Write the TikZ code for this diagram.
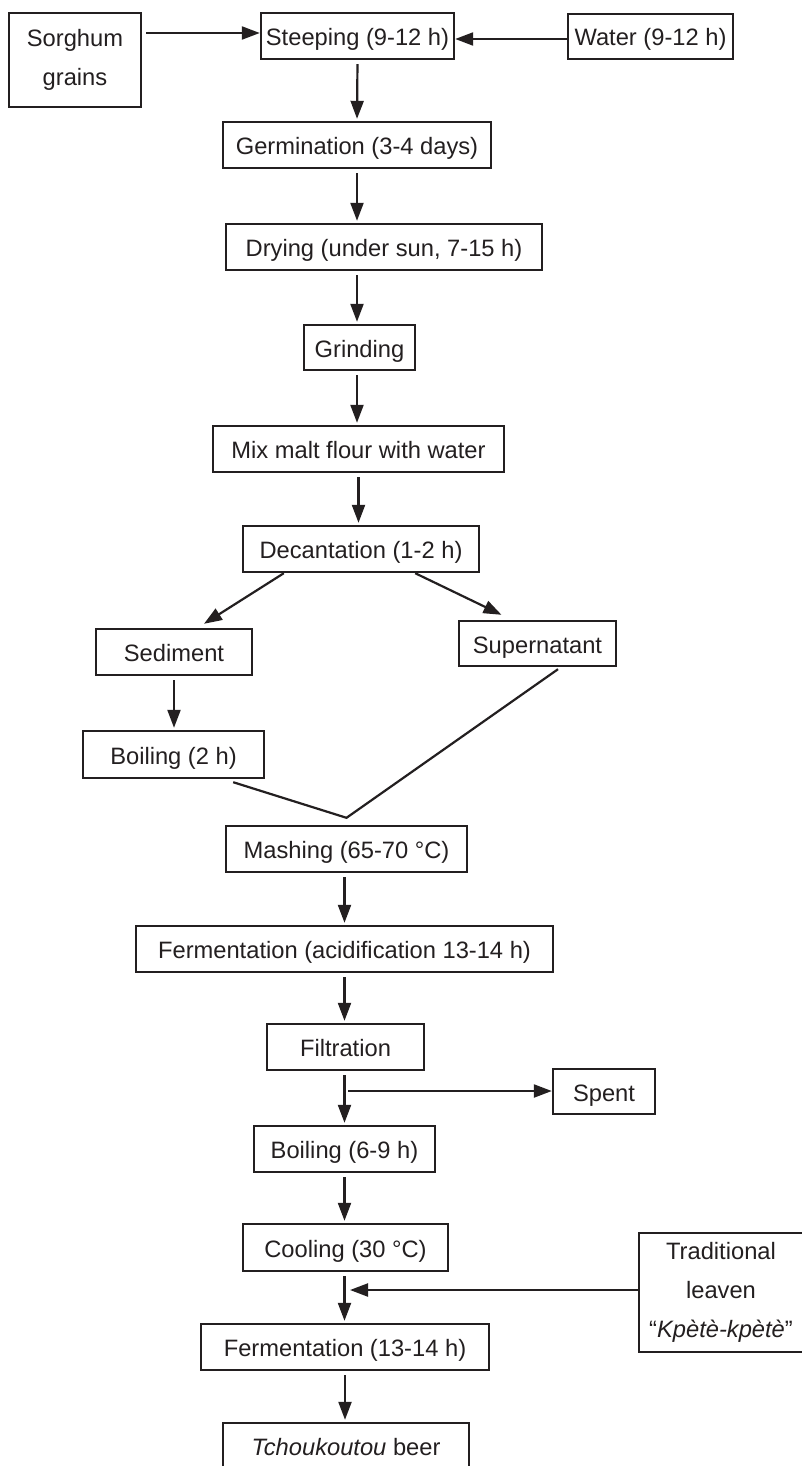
\documentclass[tikz,border=0pt]{standalone}
\usepackage{fontspec}
\setmainfont{Liberation Sans}
\usetikzlibrary{arrows.meta}
\definecolor{ink}{HTML}{231F20}
\begin{document}
\begin{tikzpicture}[x=1pt,y=-1pt,
  box/.style={draw=ink, line width=2.4pt, inner sep=0pt, text=ink, font=\fontsize{23.7}{39}\selectfont},
  one/.style={box, text height=22pt, text depth=3pt},
  sz/.style 2 args={minimum width=#1pt, minimum height=#2pt},
  arr/.style={draw=ink, line width=2.2pt, -{Triangle[length=18pt,width=13pt]}},
  varr/.style={arr, shorten <=4pt, shorten >=2pt},
  ln/.style={draw=ink, line width=2.2pt}]
\useasboundingbox (0,0) rectangle (801,1466);
\fill[white] (0,0) rectangle (801,1466);

\node[box, sz={132}{94}, align=center] (sorghum) at (75,60) {Sorghum\\grains};
\node[one, sz={193}{46}] (steep) at (357.5,36) {Steeping (9-12 h)};
\node[one, sz={165}{45}] (water) at (650.5,36.5) {Water (9-12 h)};
\node[one, sz={268}{46}] (germ) at (357,145) {Germination (3-4 days)};
\node[one, sz={316}{46}] (dry) at (384,247) {Drying (under sun, 7-15 h)};
\node[one, sz={111}{45}] (grind) at (359.5,347.5) {Grinding};
\node[one, sz={291}{46}] (mix) at (358.5,449) {Mix malt flour with water};
\node[one, sz={236}{46}] (dec) at (361,549) {Decantation (1-2 h)};
\node[one, sz={156}{46}] (sed) at (174,652) {Sediment};
\node[one, sz={157}{45}] (sup) at (537.5,643.5) {Supernatant};
\node[one, sz={181}{47}] (boilA) at (173.5,754.5) {Boiling (2 h)};
\node[one, sz={241}{46}] (mash) at (346.5,849) {Mashing (65-70 °C)};
\node[one, sz={417}{46}] (fermA) at (344.5,949) {Fermentation (acidification 13-14 h)};
\node[one, sz={157}{46}] (filt) at (345.5,1047) {Filtration};
\node[one, sz={102}{45}] (spent) at (604,1091.5) {Spent};
\node[one, sz={181}{46}] (boilB) at (344.5,1149) {Boiling (6-9 h)};
\node[one, sz={205}{47}] (cool) at (345.5,1247.5) {Cooling (30 °C)};
\node[box, sz={164}{119}, align=center] (leaven) at (721,1292.5) {Traditional\\leaven\\“\textit{Kpètè-kpètè}”};
\node[one, sz={288}{46}] (fermB) at (345,1347) {Fermentation (13-14 h)};
\node[one, sz={246}{46}] (beer) at (346,1446) {\textit{Tchoukoutou} beer};

% top inputs
\coordinate (s1) at (146,33);
\draw[arr] (s1) -- (steep.west |- s1);
\coordinate (w1) at (568,39);
\draw[arr] (water.west |- w1) -- (steep.east |- w1);

% main chain
\draw[varr] (steep.south) -- (germ.north);
\draw[varr] (germ.south) -- (germ.south |- dry.north);
\draw[varr] (germ.south |- dry.south) -- (germ.south |- grind.north);
\draw[varr] (germ.south |- grind.south) -- (germ.south |- mix.north);
\draw[varr] (mix.south) -- (mix.south |- dec.north);

% split
\draw[arr] ([xshift=42pt]dec.south west) -- ([xshift=30pt,yshift=4pt]sed.north);
\draw[arr] ([xshift=-65pt]dec.south east) -- ([xshift=-36pt,yshift=5pt]sup.north);
\draw[varr] (sed.south) -- (sed.south |- boilA.north);

% join
\coordinate (join) at ([yshift=7pt]mash.north);
\draw[ln] ([xshift=-32pt,yshift=-3pt]boilA.south east) -- (join) -- ([xshift=20.5pt,yshift=-2pt]sup.south);

\draw[varr] (fermA.north |- mash.south) -- (fermA.north);
\draw[varr] (fermA.south) -- (fermA.south |- filt.north);
\draw[varr] (fermA.south |- filt.south) -- (fermA.south |- boilB.north);
\coordinate (br) at (348,1091);
\draw[arr] (br) -- (spent.west |- br);
\draw[varr] (boilB.south) -- (boilB.south |- cool.north);
\draw[varr] (boilB.south |- cool.south) -- (boilB.south |- fermB.north);
\coordinate (lv) at (350,1290);
\draw[arr] (leaven.west |- lv) -- (lv);
\draw[varr] (fermB.south) -- (fermB.south |- beer.north);
\end{tikzpicture}
\end{document}
